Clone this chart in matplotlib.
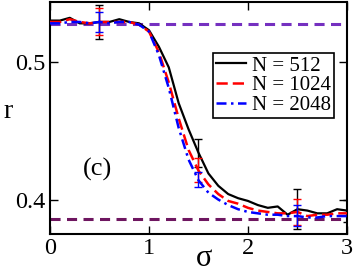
import matplotlib
matplotlib.use('Agg')
import matplotlib.pyplot as plt

plt.rcParams['font.family'] = ['Liberation Serif', 'DejaVu Serif']

# data
sigma = [0.0, 0.1, 0.2, 0.3, 0.4, 0.5, 0.6, 0.7, 0.8, 0.9, 1.0,
         1.1, 1.2, 1.3, 1.4, 1.5, 1.6, 1.7, 1.8, 1.9, 2.0,
         2.1, 2.2, 2.3, 2.4, 2.5, 2.6, 2.7, 2.8, 2.9, 3.0]
r_512 = [0.530, 0.530, 0.532, 0.528, 0.528, 0.529, 0.529, 0.531, 0.529, 0.528, 0.523,
         0.511, 0.496, 0.470, 0.451, 0.434, 0.419, 0.410, 0.404, 0.401, 0.399,
         0.396, 0.394, 0.395, 0.389, 0.393, 0.392, 0.390, 0.390, 0.393, 0.392]
r_1024 = [0.529, 0.529, 0.531, 0.529, 0.528, 0.529, 0.529, 0.529, 0.529, 0.527, 0.522,
          0.507, 0.485, 0.459, 0.436, 0.421, 0.411, 0.404, 0.399, 0.397, 0.394,
          0.392, 0.391, 0.390, 0.390, 0.391, 0.388, 0.389, 0.389, 0.390, 0.390]
r_2048 = [0.528, 0.528, 0.529, 0.529, 0.528, 0.529, 0.528, 0.529, 0.529, 0.527, 0.522,
          0.505, 0.481, 0.452, 0.429, 0.414, 0.405, 0.400, 0.396, 0.393, 0.391,
          0.390, 0.389, 0.389, 0.388, 0.388, 0.387, 0.387, 0.388, 0.388, 0.388]

# error bars
err_x = [0.5, 1.5, 2.5]
err_512_y = [0.529, 0.434, 0.393]
err_512 = [0.0125, 0.010, 0.0145]
err_1024_y = [0.529, 0.4215, 0.391]
err_1024 = [0.0098, 0.0085, 0.0097]
err_2048_y = [0.529, 0.4145, 0.3885]
err_2048 = [0.007, 0.0057, 0.0075]
err_512_end_x = [3.0]
err_512_end_y = [0.392]
err_512_end = [0.008]

r_high = 0.5275
r_low = 0.386

fig = plt.figure(figsize=(3.54, 2.73), dpi=100)
ax = fig.add_axes([0.1412, 0.1429, 0.8390, 0.8498])

ax.axhline(r_high, color='#7530c0', lw=2.2, ls=(0, (3.3, 2.1)), zorder=1)
ax.axhline(r_low, color='#6e1660', lw=2.2, ls=(0, (3.3, 2.1)), zorder=1)

ax.plot(sigma, r_512, color='black', lw=1.6, label='N = 512', zorder=3)
ax.plot(sigma, r_1024, color='red', lw=1.8, ls=(0, (4.5, 2)), label='N = 1024', zorder=4)
ax.plot(sigma, r_2048, color='blue', lw=1.8, ls=(0, (4, 1.8, 1, 1.8)), label='N = 2048', zorder=5)

ax.errorbar(err_x, err_512_y, yerr=err_512, fmt='none', ecolor='black',
            elinewidth=1, capsize=3, capthick=1, zorder=3)
ax.errorbar(err_512_end_x, err_512_end_y, yerr=err_512_end, fmt='none', ecolor='black',
            elinewidth=1, capsize=3, capthick=1, zorder=3)
ax.errorbar(err_x, err_1024_y, yerr=err_1024, fmt='none', ecolor='red',
            elinewidth=1, capsize=3, capthick=1, zorder=4)
ax.errorbar(err_x, err_2048_y, yerr=err_2048, fmt='none', ecolor='blue',
            elinewidth=1, capsize=3, capthick=1, zorder=5)

ax.set_xlim(0, 3)
ax.set_ylim(0.375, 0.5435)
ax.set_xticks([0, 1, 2, 3])
ax.set_yticks([0.4, 0.5])
ax.set_xticklabels(['0', '1', '2', '3'])
ax.set_yticklabels(['0.4', '0.5'])
ax.tick_params(direction='in', length=6, width=1, labelsize=17.5,
               top=True, right=True, pad=3)

for s in ax.spines.values():
    s.set_linewidth(1.5)

# axis labels placed by hand so they stay inside the small canvas
fig.text(204 / 354, 0.5 / 273, 'σ', fontsize=22, ha='center', va='bottom')
fig.text(3 / 354, 1 - 118 / 273, 'r', fontsize=20, ha='left', va='baseline')

ax.text(0.475, 0.4217, '(c)', fontsize=19, ha='center', va='center')

leg = ax.legend(loc='upper right', bbox_to_anchor=(0.956, 0.78), fontsize=15,
                frameon=True, fancybox=False, edgecolor='black', framealpha=1,
                labelspacing=0.0, handlelength=1.4, handletextpad=0.3,
                borderpad=0.15, borderaxespad=0)
leg.get_frame().set_linewidth(1.2)

fig.savefig('out.png', dpi=100)
